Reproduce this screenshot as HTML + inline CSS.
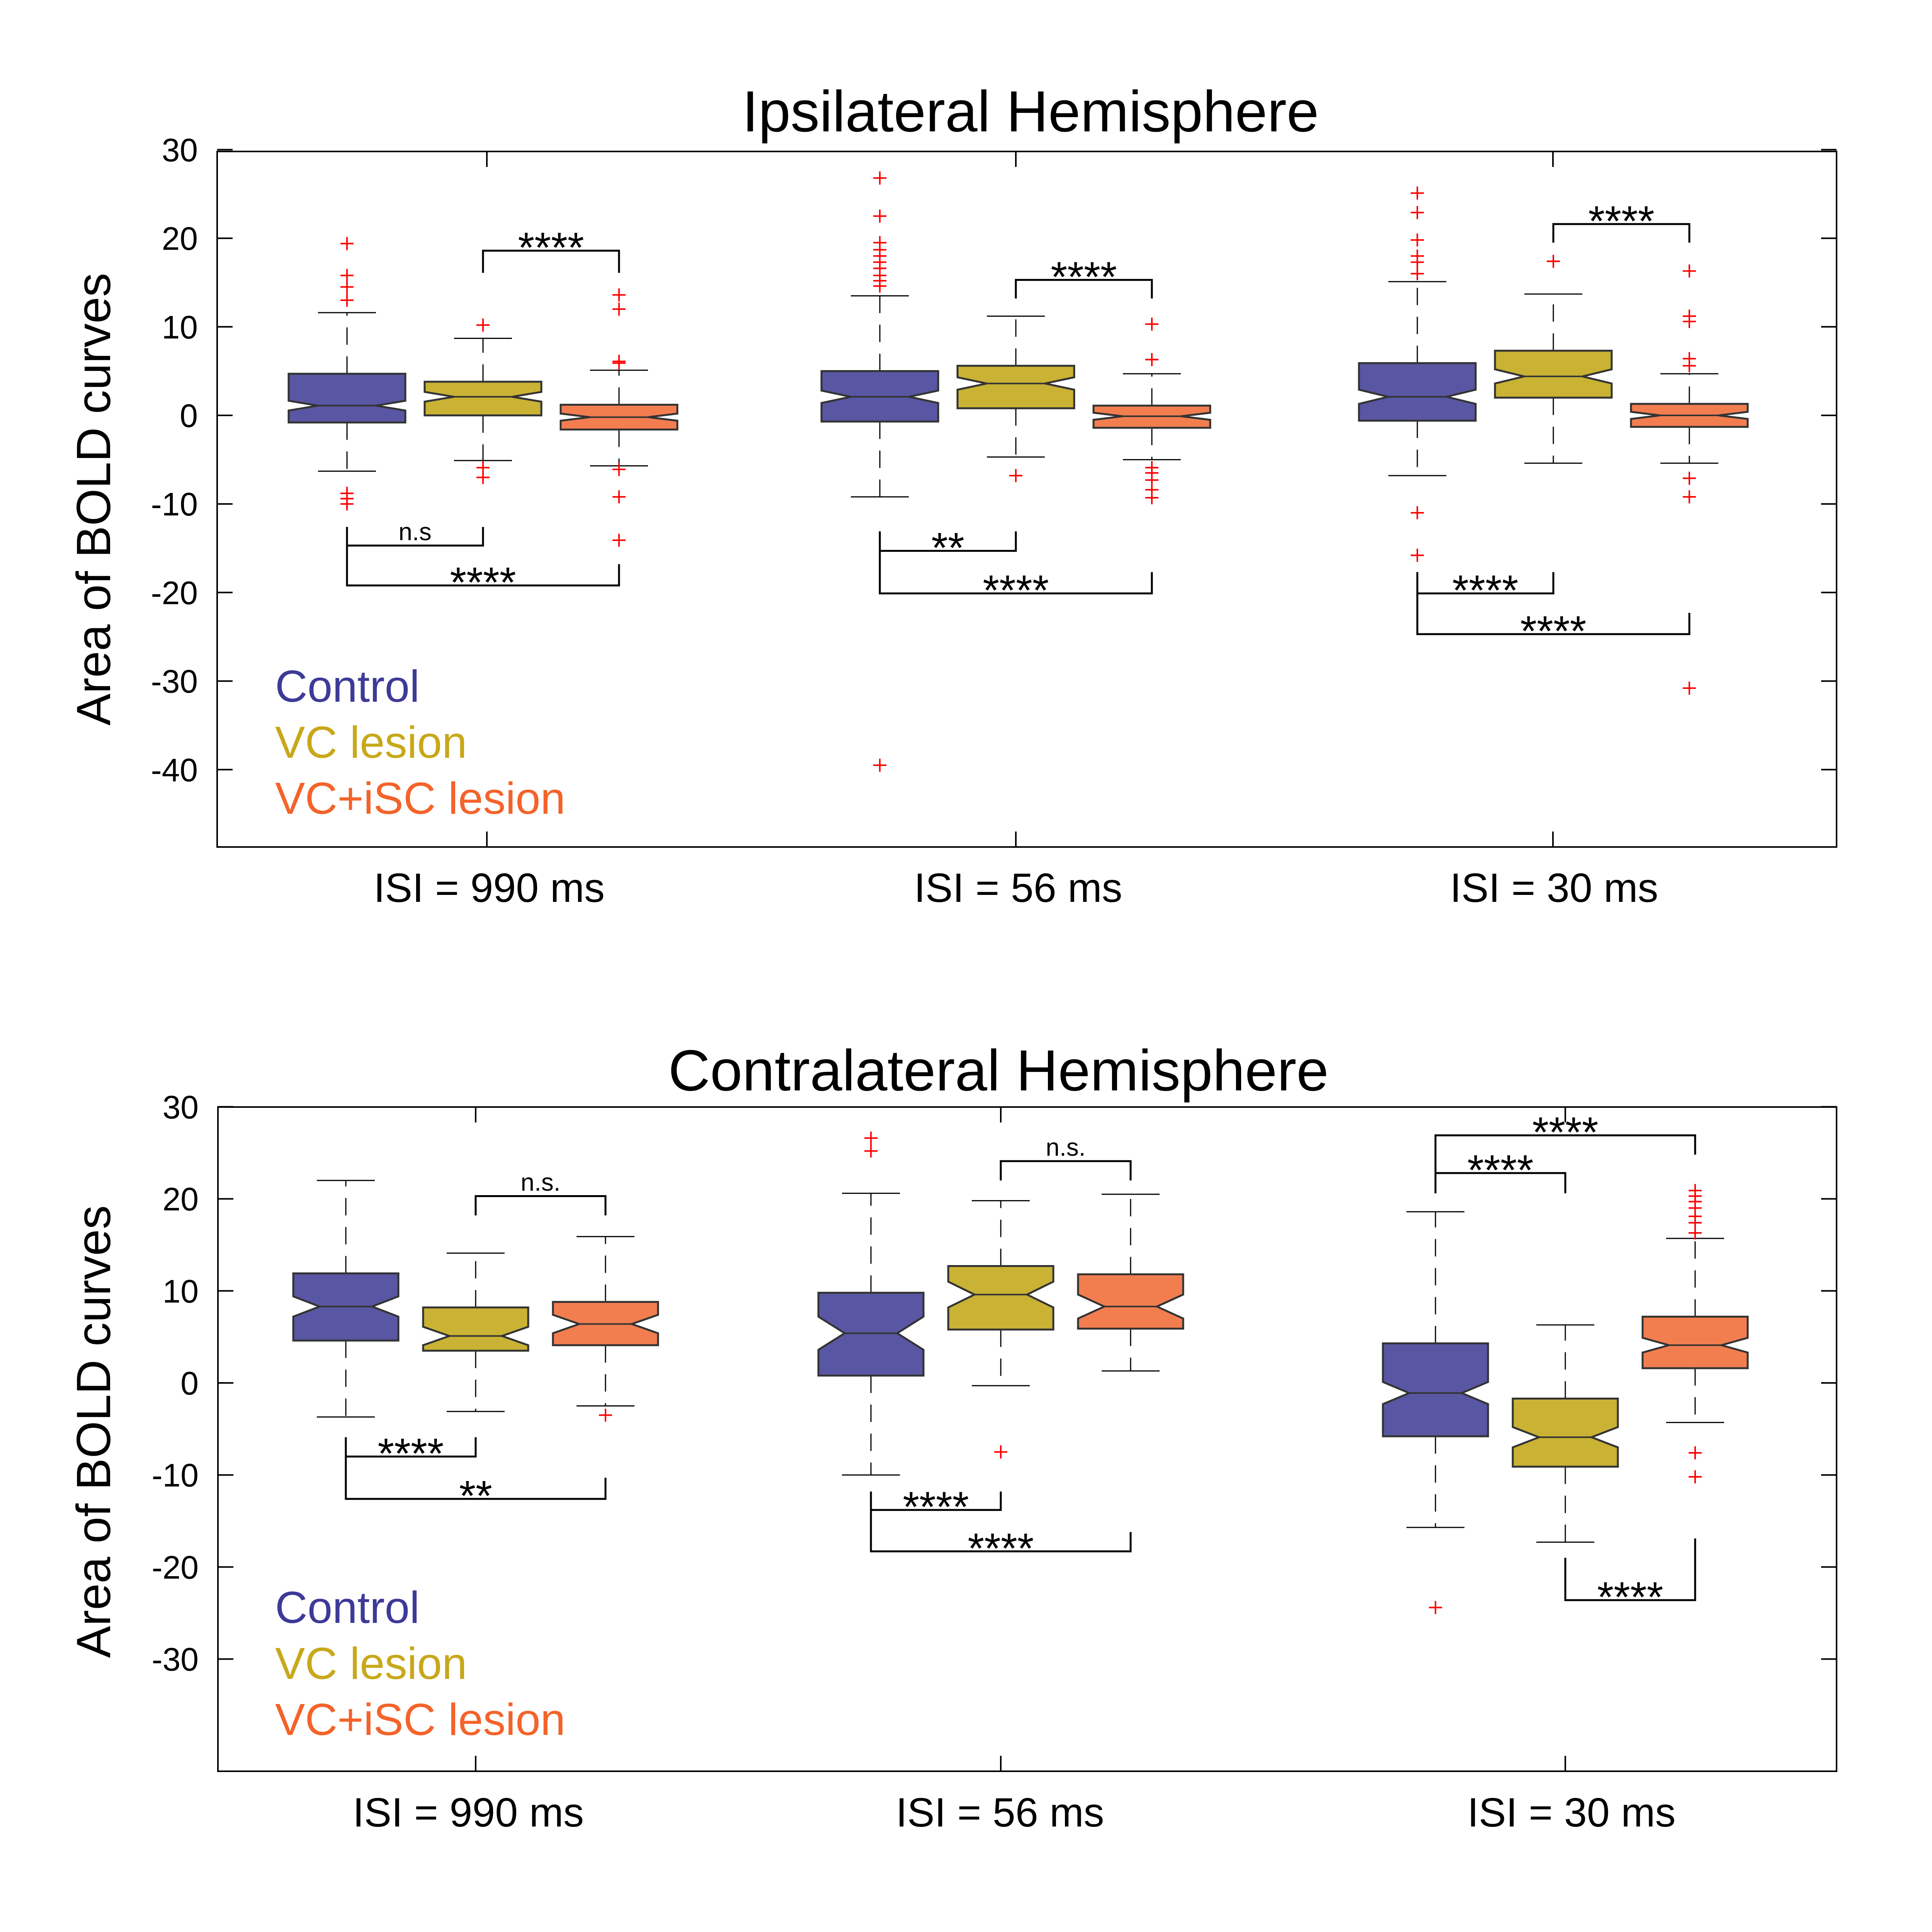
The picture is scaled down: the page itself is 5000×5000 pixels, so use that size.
<!DOCTYPE html>
<html><head><meta charset="utf-8"><style>
html,body{margin:0;padding:0;background:#fff;}
svg{display:block;font-family:"Liberation Sans",Arial,sans-serif;}
</style></head><body>
<svg id="chart" width="5000" height="5000" viewBox="0 0 5000 5000" xmlns="http://www.w3.org/2000/svg"></svg>
<script>
// ---------- TOP PANEL DATA (order: group-major; Control, VC, VC+iSC) ----------
const groupLabels = ["ISI = 990 ms","ISI = 56 ms","ISI = 30 ms"];
const seriesNames = ["Control","VC lesion","VC+iSC lesion"];
const topQ1   = [-0.8, 0.0, -1.6,  -0.7, 0.8, -1.4,  -0.6, 2.0, -1.3];
const topMed  = [ 1.1, 2.1, -0.2,   2.1, 3.6, -0.1,   2.1, 4.4,  0.0];
const topQ3   = [ 4.7, 3.8,  1.2,   5.0, 5.6,  1.1,   5.9, 7.3,  1.3];
const topLo   = [-6.3,-5.1, -5.7,  -9.2,-4.7, -5.0,  -6.8,-5.4, -5.4];
const topHi   = [11.6, 8.7,  5.1,  13.5,11.2,  4.7,  15.1,13.7,  4.7];
const topNotch= [0.55,0.55, 0.4,   0.7, 0.7,  0.4,   0.8, 0.8,  0.4];
const topOut  = [[19.4,15.8,14.5,13,-8.8,-9.4,-10],[10.2,-5.9,-7],[13.6,12,6.1,5.9,-6.1,-9.2,-14.1],
  [26.8,22.5,19.5,18.7,18,17.3,16.6,15.8,15.2,14.6,-39.5],[-6.8],[10.3,6.3,-5.9,-6.5,-7.3,-8.4,-9.3],
  [25.1,22.9,19.8,18,17.3,16,-11,-15.8],[17.4],[16.3,11.2,10.6,6.4,5.6,-7.1,-9.2,-30.8]];
const topBrGroup=[0,0,0,1,1,1,2,2,2];
const topBrA=[1,0,0,1,0,0,1,0,0];
const topBrB=[2,1,2,2,1,2,2,1,2];
const topBrY=[18.6,-14.7,-19.2,15.3,-15.3,-20.1,21.6,-20.1,-24.7];
const topBrLegA=[16.1,-12.6,-12.6,13.2,-13.1,-13.1,19.5,-17.7,-17.7];
const topBrLegB=[16.1,-12.6,-16.8,13.2,-13.1,-17.7,19.5,-17.7,-22.3];
const topBrLabel=["****","n.s","****","****","**","****","****","****","****"];
const topTicks=[30,20,10,0,-10,-20,-30,-40];

// ---------- BOTTOM PANEL DATA ----------
const botQ1   = [ 4.6, 3.5, 4.1,   0.8, 5.8, 5.9,  -5.8,-9.1, 1.6];
const botMed  = [ 8.3, 5.1, 6.4,   5.4, 9.6, 8.3,  -1.1,-5.9, 4.1];
const botQ3   = [11.9, 8.2, 8.8,   9.8,12.7,11.8,   4.3,-1.7, 7.2];
const botLo   = [-3.7,-3.1,-2.5, -10.0,-0.3, 1.3, -15.7,-17.3,-4.3];
const botHi   = [22.0,14.1,15.9,  20.6,19.8,20.5,  18.6, 6.3,15.7];
const botNotch= [1.1, 1.0, 1.0,   1.8, 1.4, 1.3,   1.2, 1.1, 0.8];
const botOut  = [[],[],[-3.5],[26.6,25.2],[-7.5],[],[-24.4],[],[20.9,20.3,19.7,19,18.1,17.4,16.3,-7.6,-10.2]];
const botBrGroup=[0,0,0,1,1,1,2,2,2];
const botBrA=[1,0,0,1,0,0,0,0,1];
const botBrB=[2,1,2,2,1,2,2,1,2];
const botBrY=[20.3,-8.0,-12.6,24.1,-13.8,-18.3,26.9,22.8,-23.6];
const botBrLegA=[18.2,-5.9,-5.9,22.0,-11.8,-11.8,20.6,20.6,-19.0];
const botBrLegB=[18.2,-5.9,-10.3,22.0,-11.8,-16.2,24.8,20.6,-16.9];
const botBrLabel=["n.s.","****","**","n.s.","****","****","****","****","****"];
const botTicks=[30,20,10,0,-10,-20,-30];

const fills=["#5956a3","#c9b234","#f27e50"];
const textCols=["#3d3a98","#c8a81a","#f4632a"];
const svg=document.getElementById('chart');
const NS="http://www.w3.org/2000/svg";
function mk(tag,attrs,parent){const e=document.createElementNS(NS,tag);for(const k in attrs)e.setAttribute(k,attrs[k]);(parent||svg).appendChild(e);return e;}

function panel(P){
  const g=mk('g',{});
  
  
  const yS=v=>P.y0-v*P.ppu;
  const L=P.left,R=P.right,T=P.top,B=P.bottom;
  const t=mk('text',{x:P.titleX,y:P.titleY,'font-size':150,'text-anchor':'middle',fill:'#000'},g);
  t.textContent=P.title;
  
  
  const fr=mk('rect',{x:L,y:T,width:R-L,height:B-T,fill:'none',stroke:'#000','stroke-width':4},g);
  
  
  P.ticks.forEach(v=>{
    const y=yS(v);
    mk('line',{x1:L,x2:L+40,y1:y,y2:y,stroke:'#000','stroke-width':4},g);
    mk('line',{x1:R,x2:R-40,y1:y,y2:y,stroke:'#000','stroke-width':4},g);
    const tl=mk('text',{x:L-50,y:y+30,'font-size':84,'text-anchor':'end'},g);
    tl.textContent=String(v);
    
    
  });
  const yl=mk('text',{x:0,y:0,'font-size':124,'text-anchor':'middle',transform:`translate(${P.ylabX},${P.ylabY}) rotate(-90)`},g);
  yl.textContent="Area of BOLD curves";
  
  
  P.tickX.forEach((gx,i)=>{
    mk('line',{x1:gx,x2:gx,y1:B,y2:B-40,stroke:'#000','stroke-width':4},g);
    mk('line',{x1:gx,x2:gx,y1:T,y2:T+40,stroke:'#000','stroke-width':4},g);
    const xl=mk('text',{x:P.labX[i],y:P.labY,'font-size':106,'text-anchor':'middle'},g);
    xl.textContent=groupLabels[i];
    
    
  });
  const cx=i=>P.groupX[Math.floor(i/3)]+((i%3)-1)*P.sp;
  for(let i=0;i<9;i++){
    const x=cx(i),hw=P.bw/2,ni=hw*0.5;
    const q1=yS(P.q1[i]),q3=yS(P.q3[i]),md=yS(P.med[i]);
    const nt=yS(P.med[i]+P.notch[i]),nb=yS(P.med[i]-P.notch[i]);
    const bg=mk('g',{},g);
    
    
    mk('line',{x1:x,x2:x,y1:q3,y2:yS(P.hi[i]),stroke:'#000','stroke-width':3,'stroke-dasharray':'45 30'},bg);
    mk('line',{x1:x,x2:x,y1:q1,y2:yS(P.lo[i]),stroke:'#000','stroke-width':3,'stroke-dasharray':'45 30'},bg);
    mk('line',{x1:x-P.cap,x2:x+P.cap,y1:yS(P.hi[i]),y2:yS(P.hi[i]),stroke:'#000','stroke-width':3},bg);
    mk('line',{x1:x-P.cap,x2:x+P.cap,y1:yS(P.lo[i]),y2:yS(P.lo[i]),stroke:'#000','stroke-width':3},bg);
    const pts=[[x-hw,q3],[x+hw,q3],[x+hw,nt],[x+ni,md],[x+hw,nb],[x+hw,q1],[x-hw,q1],[x-hw,nb],[x-ni,md],[x-hw,nt]];
    mk('polygon',{points:pts.map(p=>p.join(',')).join(' '),fill:fills[i%3],stroke:'#333','stroke-width':5},bg);
    mk('line',{x1:x-ni,x2:x+ni,y1:md,y2:md,stroke:'#333','stroke-width':4},bg);
    P.out[i].forEach(v=>{
      const y=yS(v);
      const o=mk('path',{d:`M${x-17},${y}H${x+17}M${x},${y-17}V${y+17}`,stroke:'#f00','stroke-width':4,fill:'none'},bg);
      
      
    });
  }
  for(let k=0;k<P.brG.length;k++){
    const xa=cx(P.brG[k]*3+P.brA[k]),xb=cx(P.brG[k]*3+P.brB[k]);
    const yb=yS(P.brY[k]);
    const bk=mk('g',{},g);
    
    
    mk('path',{d:`M${xa},${yS(P.brLA[k])}V${yb}H${xb}V${yS(P.brLB[k])}`,fill:'none',stroke:'#000','stroke-width':5},bk);
    const isNs=P.brL[k].startsWith('n');
    const tx=mk('text',{x:(xa+xb)/2,y:isNs?yb-14:yb+30,'font-size':isNs?64:110,'text-anchor':'middle'},bk);
    tx.textContent=P.brL[k];
  }
  seriesNames.forEach((s,i)=>{
    const lt=mk('text',{x:712,y:P.legY+i*145,'font-size':116,fill:textCols[i]},g);
    lt.textContent=s;
    
    
  });
}

panel({name:'ipsilateral-panel',title:'Ipsilateral Hemisphere',titleX:2667,titleY:340,
  left:562,right:4753,top:392,bottom:2192,y0:1075,ppu:22.92,ticks:topTicks,
  ylabX:285,ylabY:1292,groupX:[1250,2629,4020],tickX:[1260,2629,4019],labX:[1266,2635,4022],labY:2334,sp:352,bw:302,cap:75,
  q1:topQ1,med:topMed,q3:topQ3,lo:topLo,hi:topHi,notch:topNotch,out:topOut,
  brG:topBrGroup,brA:topBrA,brB:topBrB,brY:topBrY,brLA:topBrLegA,brLB:topBrLegB,brL:topBrLabel,legY:1816});
panel({name:'contralateral-panel',title:'Contralateral Hemisphere',titleX:2584,titleY:2822,
  left:564,right:4753,top:2865,bottom:4584,y0:3579,ppu:23.82,ticks:botTicks,
  ylabX:285,ylabY:3705,groupX:[1231,2590,4051],tickX:[1231,2590,4051],labX:[1212,2588,4067],labY:4727,sp:336,bw:272,cap:75,
  q1:botQ1,med:botMed,q3:botQ3,lo:botLo,hi:botHi,notch:botNotch,out:botOut,
  brG:botBrGroup,brA:botBrA,brB:botBrB,brY:botBrY,brLA:botBrLegA,brLB:botBrLegB,brL:botBrLabel,legY:4200});
</script>
</body></html>
